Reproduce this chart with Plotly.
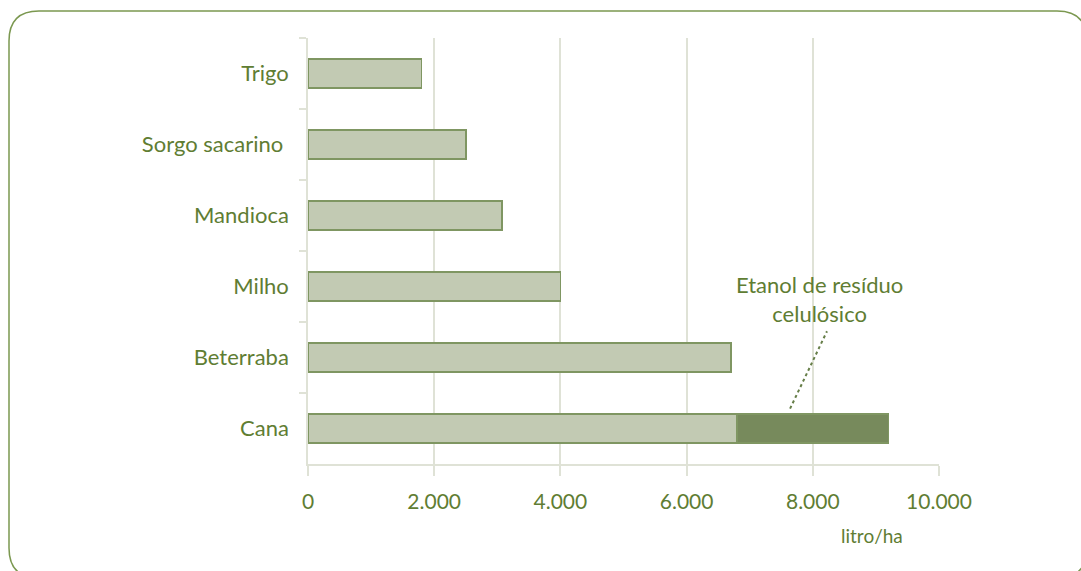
import plotly.graph_objects as go

categories = ["Trigo", "Sorgo sacarino ", "Mandioca", "Milho", "Beterraba", "Cana"]
ethanol_main = [1800, 2500, 3075, 4000, 6700, 6800]
ethanol_cellulosic = [0, 0, 0, 0, 0, 2400]
x_ticks = [0, 2000, 4000, 6000, 8000, 10000]
x_tick_labels = ["0", "2.000", "4.000", "6.000", "8.000", "10.000"]

W, H = 1081, 571
L, R, T, B = 308, 939, 38, 464
TXT = "#5f7d33"
GRID = "#dfe2d6"
FONT = "Lato, 'Open Sans', sans-serif"

def px(x):
    return (x - L) / (R - L)

def py(y):
    return (B - y) / (B - T)

fig = go.Figure()
fig.add_trace(go.Bar(
    y=categories, x=ethanol_main, orientation="h", width=0.4,
    marker=dict(color="#c2cab3", line=dict(color="#7f9662", width=1.8)),
    showlegend=False, hoverinfo="x+y"))
fig.add_trace(go.Bar(
    y=categories, x=ethanol_cellulosic, orientation="h", width=0.4,
    marker=dict(color="#778a5c", line=dict(color="#7f9662", width=1.8)),
    showlegend=False, hoverinfo="x+y"))

# rounded frame
x0, y0, x1, y1, r = 9, 11, 1087, 578, 30
path = (f"M {px(x0+r)},{py(y0)} L {px(x1-r)},{py(y0)} Q {px(x1)},{py(y0)} {px(x1)},{py(y0+r)} "
        f"L {px(x1)},{py(y1-r)} Q {px(x1)},{py(y1)} {px(x1-r)},{py(y1)} "
        f"L {px(x0+r)},{py(y1)} Q {px(x0)},{py(y1)} {px(x0)},{py(y1-r)} "
        f"L {px(x0)},{py(y0+r)} Q {px(x0)},{py(y0)} {px(x0+r)},{py(y0)} Z")
fig.add_shape(type="path", path=path, xref="paper", yref="paper",
              line=dict(color="#7b9850", width=1.5), layer="below")

# leader line for annotation
fig.add_shape(type="line", xref="x", yref="y", x0=7640, y0=4.72, x1=8225, y1=3.63,
              line=dict(color="#667e48", width=2, dash="dot"))

fig.add_annotation(x=px(819), y=py(299), xref="paper", yref="paper",
                   xanchor="center", yanchor="middle",
                   text="Etanol de resíduo<br>celulósico", showarrow=False,
                   font=dict(family=FONT, size=22, color=TXT), align="center")
fig.add_annotation(x=px(872), y=py(535), xref="paper", yref="paper",
                   xanchor="center", yanchor="middle",
                   text="litro/ha", showarrow=False,
                   font=dict(family=FONT, size=19, color=TXT))

fig.update_layout(
    width=W, height=H, barmode="stack",
    margin=dict(l=L, r=W - R, t=T, b=H - B),
    paper_bgcolor="white", plot_bgcolor="white",
    font=dict(family=FONT, size=21, color=TXT),
    xaxis=dict(range=[0, 10000], tickvals=x_ticks, ticktext=x_tick_labels,
               showgrid=True, gridcolor=GRID, gridwidth=1.5,
               ticks="outside", ticklen=10, tickcolor=GRID, tickwidth=1.5,
               showline=True, linecolor=GRID, linewidth=1.5,
               zeroline=False, ticklabelstandoff=8,
               tickfont=dict(size=21, color=TXT)),
    yaxis=dict(autorange="reversed", type="category", categoryorder="array",
               categoryarray=categories,
               showgrid=False, tickson="boundaries", ticks="outside", ticklen=7,
               tickcolor=GRID, tickwidth=1.5, showline=True, linecolor=GRID,
               linewidth=1.5, zeroline=False, ticklabelstandoff=13,
               tickfont=dict(size=22, color=TXT)),
)

fig.write_html("out.html")
